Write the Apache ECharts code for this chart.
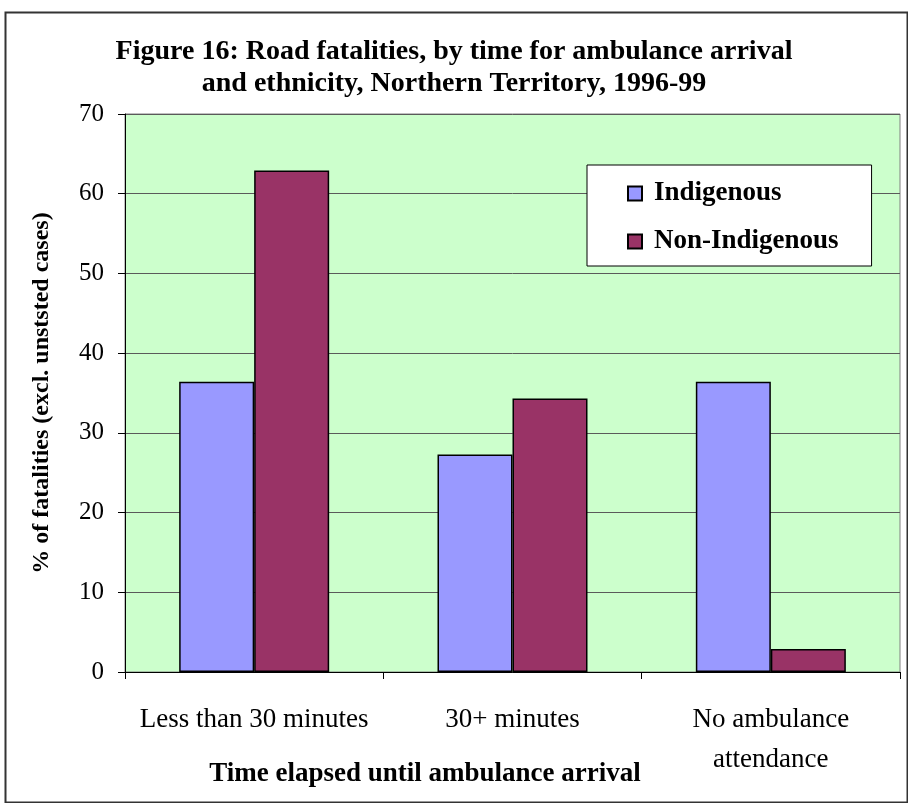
<!DOCTYPE html>
<html>
<head>
<meta charset="utf-8">
<script src="https://cdn.jsdelivr.net/npm/echarts@6/dist/echarts.min.js"></script>
<style>html,body{margin:0;padding:0;background:#fff;}#c{width:908px;height:803px;}</style>
</head>
<body>
<div id="c"></div>
<script>
const categories = ['Less than 30 minutes', '30+ minutes', 'No ambulance\nattendance'];
const seriesNames = ['Indigenous', 'Non-Indigenous'];
const indigenous = [36.4, 27.3, 36.4];
const nonIndigenous = [62.9, 34.3, 2.9];
const yTicks = { min: 0, max: 70, interval: 10 };
const titleText = 'Figure 16: Road fatalities, by time for ambulance arrival\nand ethnicity, Northern Territory, 1996-99';
const xTitle = 'Time elapsed until ambulance arrival';
const yTitle = '% of fatalities (excl. unststed cases)';

const FONT = '"Liberation Serif", "Times New Roman", serif';
const chart = echarts.init(document.getElementById('c'), null, { renderer: 'canvas' });
chart.setOption({
  animation: false,
  backgroundColor: '#fff',
  title: {
    text: titleText,
    left: 'center',
    top: 31,
    textStyle: { fontFamily: FONT, fontSize: 28, fontWeight: 'bold', color: '#000', lineHeight: 32 }
  },
  legend: {
    orient: 'vertical',
    left: 587,
    top: 165,
    icon: 'rect',
    itemWidth: 14,
    itemHeight: 14,
    itemGap: 21,
    padding: [15, 33, 11, 40],
    backgroundColor: '#fff',
    borderColor: '#000',
    borderWidth: 1,
    textStyle: { fontFamily: FONT, fontSize: 27, fontWeight: 'bold', color: '#000', padding: [0, 0, 0, 7] },
    data: seriesNames
  },
  grid: {
    left: 125, right: 8, top: 114, bottom: 131,
    show: true, backgroundColor: '#CCFFCC', borderColor: '#808080', borderWidth: 1
  },
  xAxis: {
    type: 'category',
    data: categories,
    axisLine: { show: true, lineStyle: { color: '#000', width: 1 } },
    axisTick: { show: true, length: 7, lineStyle: { color: '#000' } },
    axisLabel: { fontFamily: FONT, fontSize: 27, color: '#000', margin: 28, lineHeight: 40, interval: 0 }
  },
  yAxis: {
    type: 'value',
    min: yTicks.min, max: yTicks.max, interval: yTicks.interval,
    name: yTitle,
    nameLocation: 'middle',
    nameRotate: 90,
    nameGap: 71,
    nameTextStyle: { fontFamily: FONT, fontSize: 24, fontWeight: 'bold', color: '#000' },
    axisLine: { show: true, lineStyle: { color: '#000', width: 1 } },
    axisTick: { show: true, length: 7, lineStyle: { color: '#000' } },
    axisLabel: { fontFamily: FONT, fontSize: 25, color: '#000', margin: 21 },
    splitLine: { show: true, lineStyle: { color: '#5a5a5a', width: 1 } }
  },
  series: [
    {
      name: seriesNames[0], type: 'bar', data: indigenous,
      barWidth: 75, barGap: '0%',
      itemStyle: { color: '#9999FF', borderColor: '#000', borderWidth: 1.5 }
    },
    {
      name: seriesNames[1], type: 'bar', data: nonIndigenous,
      barWidth: 75, barGap: '0%',
      itemStyle: { color: '#993366', borderColor: '#000', borderWidth: 1.5 }
    }
  ],
  graphic: [
    {
      type: 'rect', left: 3, top: 10, z: 100, silent: true,
      shape: { width: 902, height: 790 },
      style: { fill: 'none', stroke: '#333', lineWidth: 2 }
    },
    {
      type: 'text', x: 425, y: 774, z: 100,
      style: { text: xTitle, fontFamily: FONT, fontSize: 27, fontWeight: 'bold', fill: '#000', align: 'center', verticalAlign: 'middle' }
    }
  ]
});
</script>
</body>
</html>
